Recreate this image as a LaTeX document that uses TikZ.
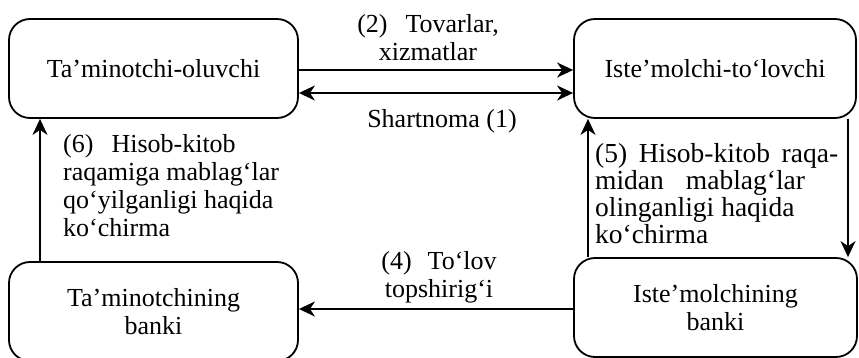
\documentclass[tikz,border=0pt]{standalone}
\usepackage{fontspec}
\setmainfont{Liberation Serif}
\usetikzlibrary{arrows.meta}
\newcommand{\lblfont}{\fontsize{26}{28}\selectfont}
\newcommand{\lblfontb}{\fontsize{27.5}{27}\selectfont}
\begin{document}
\begin{tikzpicture}[x=1pt,y=-1pt,
  box/.style={draw, line width=1.8pt, rounded corners=21pt, minimum width=289pt,
    minimum height=99pt, inner sep=0pt, align=center, font=\lblfont},
  lbl/.style={inner sep=0pt, align=left, font=\lblfont},
  tipa/.tip={Stealth[length=16pt,width=15pt,inset=5pt]},
  arr/.style={line width=1.8pt, -tipa},
  arrb/.style={line width=1.8pt, tipa-tipa}]
\clip (0,0) rectangle (859,358);
% boxes
\node[box] (tl) at (153.5,68.5) {Ta’minotchi-oluvchi};
\node[box, minimum width=282pt] (tr) at (715,68.5) {Iste’molchi-to‘lovchi};
\node[box] (bl) at (153.5,311.5) {Ta’minotchining\\banki};
\node[box, minimum width=283pt] (br) at (715.5,307.5) {Iste’molchining\\banki};
% helper coordinates
\coordinate (ya) at (0,70);
\coordinate (yb) at (0,93);
\coordinate (yc) at (0,309);
\coordinate (xa) at (40,0);
\coordinate (xb) at (588,0);
\coordinate (xc) at (848,0);
% connectors
\draw[arr] (tl.east |- ya) -- (tr.west |- ya);
\draw[arrb] (tl.east |- yb) -- (tr.west |- yb);
\draw[arr] (bl.north -| xa) -- (tl.south -| xa);
\draw[arr] (br.north -| xb) -- (tr.south -| xb);
\draw[arr] (tr.south -| xc) -- (br.north -| xc);
\draw[arr] (br.west |- yc) -- (bl.east |- yc);
% labels
\node[lbl, align=center, anchor=north] (l2) at (428,14.2) {(2)\hspace{18pt}Tovarlar,\\xizmatlar};
\node[lbl, anchor=base] (l1) at (442,128) {Shartnoma (1)};
\node[lbl, align=center, anchor=north] (l4) at (439,251.2) {(4)\hspace{16pt}To‘lov\\topshirig‘i};
\node[lbl, anchor=north west] (l6) at (63,134.2) {(6)\hspace{18pt}Hisob-kitob\\raqamiga mablag‘lar\\qo‘yilganligi haqida\\ko‘chirma};
\node[lbl, font=\lblfontb, anchor=north west] (l5) at (595,143.3) {\makebox[243pt][s]{(5) Hisob-kitob raqa-}\\midan\hspace{22pt}mablag‘lar\\olinganligi haqida\\ko‘chirma};
\end{tikzpicture}
\end{document}
